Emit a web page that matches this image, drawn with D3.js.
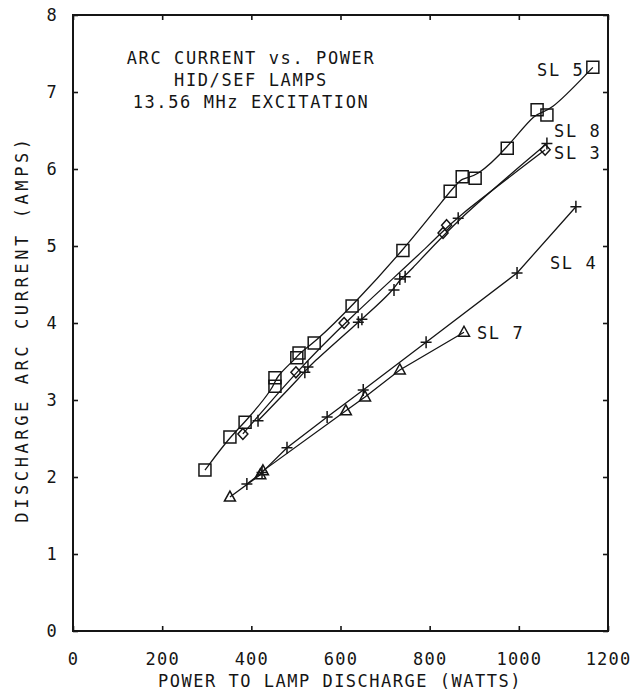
<!DOCTYPE html>
<html>
<head>
<meta charset="utf-8">
<script src="https://cdn.jsdelivr.net/npm/d3@7"></script>
<style>
  body { margin: 0; background: #fff; }
  text { font-family: "DejaVu Sans Mono", monospace; fill: #151515; }
</style>
</head>
<body>
<div id="chart"></div>
<script>
/* data: power (W) vs arc current (A) */
var sl5W = [296, 352, 386, 453, 453, 502, 507, 541, 626, 740, 846, 873, 902, 974, 1041, 1063, 1166];
var sl5A = [2.09, 2.52, 2.71, 3.18, 3.29, 3.55, 3.61, 3.74, 4.22, 4.94, 5.71, 5.90, 5.88, 6.27, 6.77, 6.70, 7.32];

var sl3W = [381, 500, 608, 830, 838, 1059];
var sl3A = [2.56, 3.36, 4.00, 5.17, 5.27, 6.25];

var sl8W = [415, 520, 527, 640, 648, 720, 733, 745, 864, 1063];
var sl8A = [2.73, 3.36, 3.43, 4.01, 4.05, 4.43, 4.57, 4.60, 5.36, 6.33];

var sl4W = [390, 424, 480, 570, 651, 792, 996, 1128];
var sl4A = [1.91, 2.06, 2.38, 2.78, 3.13, 3.75, 4.65, 5.51];

var sl7W = [352, 420, 426, 612, 655, 733, 877];
var sl7A = [1.74, 2.03, 2.08, 2.86, 3.04, 3.39, 3.88];

var xTicks = [0, 200, 400, 600, 800, 1000, 1200];
var yTicks = [0, 1, 2, 3, 4, 5, 6, 7, 8];

// series labels, anchored in data units (watts, amps)
var labelText = ["SL 5", "SL 8", "SL 3", "SL 4", "SL 7"];
var labelW = [1041, 1079, 1079, 1070, 906];
var labelA = [7.29, 6.49, 6.21, 4.78, 3.87];

var titleLines = ["ARC CURRENT vs. POWER", "HID/SEF LAMPS", "13.56 MHz EXCITATION"];

var width = 631, height = 694;
var ink = "#151515";

var svg = d3.select("#chart").append("svg")
    .attr("width", width)
    .attr("height", height);

var x = d3.scaleLinear().domain([0, 1200]).range([73, 608]);
var y = d3.scaleLinear().domain([0, 8]).range([631, 15]);

//axes - ticks point inward on all four sides
var axBottom = svg.append("g").attr("transform", "translate(0," + y(0) + ")")
    .call(d3.axisBottom(x).tickValues(xTicks).tickFormat(d3.format("d"))
        .tickSizeInner(-5).tickSizeOuter(0).tickPadding(22));
var axLeft = svg.append("g").attr("transform", "translate(" + x(0) + ",0)")
    .call(d3.axisLeft(y).tickValues(yTicks).tickSizeInner(-5).tickSizeOuter(0).tickPadding(15));
var axTop = svg.append("g").attr("transform", "translate(0," + y(8) + ")")
    .call(d3.axisTop(x).tickValues(xTicks).tickSizeInner(-5).tickSizeOuter(0).tickFormat(""));
var axRight = svg.append("g").attr("transform", "translate(" + x(1200) + ",0)")
    .call(d3.axisRight(y).tickValues(yTicks).tickSizeInner(-5).tickSizeOuter(0).tickFormat(""));

[axBottom, axLeft, axTop, axRight].forEach(function (g) {
    g.select(".domain").remove();
    g.selectAll(".tick line").attr("stroke", ink).attr("stroke-width", 1.6);
    g.selectAll(".tick text")
        .style("font-family", "'DejaVu Sans Mono', monospace")
        .style("font-size", "17px")
        .style("letter-spacing", "1.2px")
        .attr("fill", ink);
});
axBottom.selectAll(".tick text").attr("dy", "0.35em").attr("y", 28);

svg.append("rect")
    .attr("x", x(0)).attr("y", y(8))
    .attr("width", x(1200) - x(0)).attr("height", y(0) - y(8))
    .attr("fill", "none").attr("stroke", ink).attr("stroke-width", 2);

// axis titles
svg.append("text")
    .attr("x", 340).attr("y", 681).attr("dy", "0.35em")
    .attr("text-anchor", "middle")
    .style("font-size", "17px").style("letter-spacing", "1.5px")
    .text("POWER TO LAMP DISCHARGE (WATTS)");

svg.append("text")
    .attr("transform", "translate(22,329) rotate(-90)")
    .attr("dy", "0.35em")
    .attr("text-anchor", "middle")
    .style("font-size", "17px").style("letter-spacing", "3.6px")
    .text("DISCHARGE ARC CURRENT (AMPS)");

// title block
svg.append("g").selectAll("text")
    .data(titleLines)
    .enter().append("text")
    .attr("x", 251)
    .attr("y", function (d, i) { return 58 + i * 22; })
    .attr("dy", "0.35em")
    .attr("text-anchor", "middle")
    .style("font-size", "17px").style("letter-spacing", "1.6px")
    .text(function (d) { return d; });

/* marker shapes */
var square = "M-6,-6H6V6H-6Z";
var diamond = "M0,-5.5L5,0L0,5.5L-5,0Z";
var triangle = "M0,-6L5.5,4L-5.5,4Z";
var plus = "M-5.5,0H5.5M0,-6V6";

// the upper three curves are smoothed, the lower two are drawn point to point
var series = [
    { w: sl5W, a: sl5A, mark: square, curve: d3.curveBasis },
    { w: sl3W, a: sl3A, mark: diamond, curve: d3.curveBasis },
    { w: sl8W, a: sl8A, mark: plus, curve: d3.curveBasis },
    { w: sl4W, a: sl4A, mark: plus, curve: d3.curveLinear },
    { w: sl7W, a: sl7A, mark: triangle, curve: d3.curveLinear }
];

series.forEach(function (s) {
    var pts = s.w.map(function (w, i) { return [w, s.a[i]]; });
    var line = d3.line()
        .curve(s.curve)
        .x(function (d) { return x(d[0]); })
        .y(function (d) { return y(d[1]); });
    svg.append("path")
        .datum(pts)
        .attr("d", line)
        .attr("fill", "none")
        .attr("stroke", ink)
        .attr("stroke-width", 1.3);
    svg.append("g").selectAll("path")
        .data(pts)
        .enter().append("path")
        .attr("transform", function (d) { return "translate(" + x(d[0]) + "," + y(d[1]) + ")"; })
        .attr("d", s.mark)
        .attr("fill", "none")
        .attr("stroke", ink)
        .attr("stroke-width", 1.5);
});

svg.append("g").selectAll("text")
    .data(labelText)
    .enter().append("text")
    .attr("x", function (d, i) { return x(labelW[i]); })
    .attr("y", function (d, i) { return y(labelA[i]); })
    .attr("dy", "0.35em")
    .style("font-size", "17px").style("letter-spacing", "1.6px")
    .text(function (d) { return d; });
</script>
</body>
</html>
